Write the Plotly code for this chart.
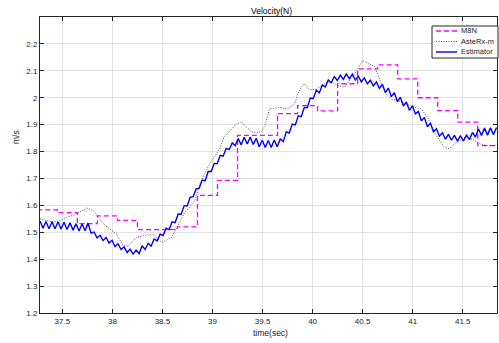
import plotly.graph_objects as go

# ---------------- data ----------------
# M8N (5 Hz, sample-and-hold)
m8n_t = [37.25, 37.45, 37.65, 37.85, 38.05, 38.25, 38.45, 38.65, 38.85, 39.05,
         39.25, 39.45, 39.65, 39.85, 40.05, 40.25, 40.45, 40.65, 40.85, 41.05,
         41.25, 41.45, 41.65, 41.85]
m8n_v = [1.583, 1.573, 1.532, 1.561, 1.544, 1.510, 1.510, 1.520, 1.637, 1.693,
         1.860, 1.860, 1.941, 1.971, 1.951, 2.052, 2.107, 2.122, 2.070, 2.000,
         1.952, 1.909, 1.822, 1.897]

# AsteRx-m
ast_t = [37.277, 37.344, 37.410, 37.477, 37.544, 37.609, 37.676, 37.743, 37.809, 37.859,
         37.925, 37.992, 38.042, 38.075, 38.108, 38.158, 38.208, 38.245, 38.324, 38.404,
         38.454, 38.494, 38.534, 38.591, 38.634, 38.674, 38.724, 38.774, 38.824, 38.874,
         38.923, 38.973, 39.023, 39.073, 39.113, 39.173, 39.239, 39.289, 39.339, 39.389,
         39.439, 39.489, 39.522, 39.552, 39.572, 39.671, 39.751, 39.821, 39.851, 39.888,
         39.920, 39.970, 40.037, 40.087, 40.137, 40.200, 40.250, 40.319, 40.386, 40.449,
         40.499, 40.549, 40.619, 40.649, 40.686, 40.736, 40.785, 40.835, 40.898, 40.948,
         41.018, 41.085, 41.147, 41.197, 41.247, 41.317, 41.367, 41.417, 41.467, 41.534,
         41.616, 41.666, 41.746, 41.836]
ast_v = [1.550, 1.544, 1.538, 1.544, 1.556, 1.563, 1.575, 1.590, 1.581, 1.556,
         1.526, 1.507, 1.495, 1.470, 1.451, 1.448, 1.470, 1.481, 1.488, 1.492,
         1.477, 1.462, 1.470, 1.481, 1.511, 1.537, 1.575, 1.593, 1.618, 1.681,
         1.718, 1.756, 1.782, 1.811, 1.852, 1.878, 1.903, 1.909, 1.890, 1.874,
         1.869, 1.874, 1.897, 1.940, 1.959, 1.964, 1.959, 1.977, 2.014, 2.039,
         2.052, 2.030, 2.032, 2.045, 2.056, 2.057, 2.045, 2.039, 2.075, 2.105,
         2.138, 2.129, 2.116, 2.089, 2.052, 2.014, 1.996, 1.990, 1.983, 1.975,
         1.965, 1.958, 1.928, 1.890, 1.853, 1.816, 1.810, 1.829, 1.841, 1.856,
         1.841, 1.829, 1.823, 1.823]

# Estimator (regularly sampled, start time and sample step)
est_t0 = 37.277
est_dt = 0.03
est_v = [1.542, 1.515, 1.540, 1.513, 1.539, 1.513, 1.539, 1.512, 1.537, 1.510,
         1.535, 1.508, 1.532, 1.505, 1.531, 1.506, 1.534, 1.497, 1.501, 1.479,
         1.489, 1.469, 1.481, 1.460, 1.470, 1.447, 1.457, 1.436, 1.446, 1.425,
         1.437, 1.419, 1.434, 1.421, 1.450, 1.436, 1.459, 1.449, 1.475, 1.468,
         1.493, 1.488, 1.515, 1.510, 1.539, 1.536, 1.568, 1.567, 1.599, 1.598,
         1.630, 1.632, 1.662, 1.663, 1.694, 1.692, 1.726, 1.726, 1.756, 1.755,
         1.786, 1.783, 1.812, 1.807, 1.832, 1.822, 1.848, 1.825, 1.853, 1.828,
         1.854, 1.826, 1.849, 1.818, 1.842, 1.815, 1.841, 1.815, 1.843, 1.818,
         1.847, 1.837, 1.873, 1.869, 1.902, 1.899, 1.933, 1.930, 1.964, 1.963,
         1.999, 1.997, 2.028, 2.018, 2.047, 2.040, 2.066, 2.056, 2.079, 2.064,
         2.084, 2.068, 2.088, 2.071, 2.088, 2.066, 2.080, 2.059, 2.074, 2.052,
         2.065, 2.044, 2.059, 2.035, 2.050, 2.019, 2.036, 2.004, 2.019, 1.986,
         2.002, 1.969, 1.984, 1.953, 1.970, 1.940, 1.949, 1.914, 1.927, 1.892,
         1.905, 1.874, 1.885, 1.857, 1.870, 1.846, 1.864, 1.842, 1.860, 1.839,
         1.859, 1.839, 1.861, 1.844, 1.871, 1.854, 1.884, 1.860, 1.887, 1.861,
         1.888, 1.863, 1.889]
est_t = [est_t0 + i * est_dt for i in range(len(est_v))]

x_ticks = [37.5, 38, 38.5, 39, 39.5, 40, 40.5, 41, 41.5]
x_labels = ["37.5", "38", "38.5", "39", "39.5", "40", "40.5", "41", "41.5"]
y_ticks = [1.2, 1.3, 1.4, 1.5, 1.6, 1.7, 1.8, 1.9, 2.0, 2.1, 2.2]
y_labels = ["1.2", "1.3", "1.4", "1.5", "1.6", "1.7", "1.8", "1.9", "2", "2.1", "2.2"]

series_names = ["M8N", "AsteRx-m", "Estimator"]
series_colors = ["#ff00ff", "#555555", "#0000ff"]
series_dash = ["5px,3px", "1px,1.5px", "solid"]
series_width = [1.3, 1.0, 1.4]

FONT = "Liberation Sans, Arial, sans-serif"
TXT = "#262626"

W, H = 499, 343
ML, MR, MT, MB = 40, 2, 17, 30
PW = W - ML - MR
PH = H - MT - MB


def px_x(x):  # figure pixel (from left) -> paper fraction of plot area
    return (x - ML) / PW


def px_y(y):  # figure pixel (from top) -> paper fraction of plot area
    return (H - MB - y) / PH


fig = go.Figure()
fig.add_trace(go.Scatter(x=m8n_t, y=m8n_v, name=series_names[0], mode="lines",
                         line=dict(color=series_colors[0], width=series_width[0],
                                   dash=series_dash[0], shape="hv")))
fig.add_trace(go.Scatter(x=ast_t, y=ast_v, name=series_names[1], mode="lines",
                         line=dict(color=series_colors[1], width=series_width[1],
                                   dash=series_dash[1])))
fig.add_trace(go.Scatter(x=est_t, y=est_v, name=series_names[2], mode="lines",
                         line=dict(color=series_colors[2], width=series_width[2])))

axis_common = dict(showline=True, linecolor="#262626", linewidth=1, mirror="ticks",
                   ticks="inside", ticklen=4, tickcolor="#262626",
                   showgrid=True, gridcolor="#e3e3e3", gridwidth=1, zeroline=False,
                   tickfont=dict(family=FONT, size=8, color=TXT))

fig.update_xaxes(range=[37.277, 41.842], tickvals=x_ticks, ticktext=x_labels, **axis_common)
fig.update_yaxes(range=[1.2, 2.3], tickvals=y_ticks, ticktext=y_labels, **axis_common)

# compact legend box (MATLAB style), drawn in figure-pixel positions
shapes = [dict(type="rect", xref="paper", yref="paper",
               x0=px_x(432), x1=px_x(498), y0=px_y(58), y1=px_y(26),
               line=dict(color="#262626", width=1), fillcolor="white", layer="above")]
annotations = []
rows = [31, 41.5, 52]
for name, col, dash, wdt, ry in zip(series_names, series_colors, series_dash, series_width, rows):
    shapes.append(dict(type="line", xref="paper", yref="paper",
                       x0=px_x(436), x1=px_x(457), y0=px_y(ry), y1=px_y(ry),
                       line=dict(color=col, width=wdt, dash=dash), layer="above"))
    annotations.append(dict(text=name, x=px_x(459), y=px_y(ry), xref="paper", yref="paper",
                            xanchor="left", yanchor="middle", showarrow=False,
                            font=dict(family=FONT, size=7.5, color=TXT)))

annotations += [
    dict(text="Velocity(N)", x=px_x(271), y=px_y(11), xref="paper", yref="paper",
         xanchor="center", yanchor="middle", showarrow=False,
         font=dict(family=FONT, size=8.5, color="#000000")),
    dict(text="time(sec)", x=px_x(270), y=px_y(333), xref="paper", yref="paper",
         xanchor="center", yanchor="middle", showarrow=False,
         font=dict(family=FONT, size=8.5, color=TXT)),
    dict(text="m/s", x=px_x(16), y=px_y(137), xref="paper", yref="paper", textangle=-90,
         xanchor="center", yanchor="middle", showarrow=False,
         font=dict(family=FONT, size=8.5, color=TXT)),
]

fig.update_layout(
    width=W, height=H,
    margin=dict(l=ML, r=MR, t=MT, b=MB),
    paper_bgcolor="white", plot_bgcolor="white",
    showlegend=False,
    shapes=shapes,
    annotations=annotations,
)

fig.write_html("out.html")
